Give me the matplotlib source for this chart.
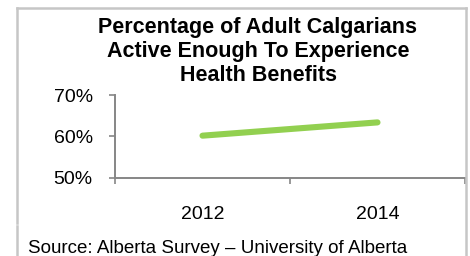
import numpy as np
import matplotlib
matplotlib.use('Agg')
import matplotlib.pyplot as plt
from matplotlib.lines import Line2D

# Data
years = ['2012', '2014']
active_pct = [60.2, 63.4]
y_ticks = [50, 60, 70]
title_text = 'Percentage of Adult Calgarians\nActive Enough To Experience\nHealth Benefits'
source_text = 'Source: Alberta Survey \u2013 University of Alberta'

plt.rcParams['font.family'] = ['Liberation Sans', 'DejaVu Sans']

fig = plt.figure(figsize=(4.7, 2.56), dpi=100)
W, H = 470.0, 256.0

# Axes placement (pixels -> figure fraction)
ax = fig.add_axes([115 / W, 1 - 178 / H, (465 - 115) / W, (178 - 95) / H])

x = np.arange(len(years))
ax.plot(x, active_pct, color='#92D050', linewidth=4.4, solid_capstyle='round')

ax.set_xlim(-0.5, len(years) - 0.5)
ax.set_ylim(50, 70)
ax.set_yticks(y_ticks)
ax.set_yticklabels([str(v) + '%' for v in y_ticks])
ax.set_xticks(x)
ax.set_xticklabels(years)
ax.set_xticks(np.arange(len(years) + 1) - 0.5, minor=True)

for s in ['top', 'right']:
    ax.spines[s].set_visible(False)
for s in ['left', 'bottom']:
    ax.spines[s].set_color('#868686')
    ax.spines[s].set_linewidth(1.4)

ax.tick_params(axis='y', which='major', direction='out', length=4, width=1.2,
               color='#868686', labelsize=14, pad=12, labelcolor='black')
ax.tick_params(axis='x', which='major', length=0, labelsize=14, pad=20, labelcolor='black')
ax.tick_params(axis='x', which='minor', direction='out', length=4, width=1.2, color='#868686')

# Title
fig.text(258 / W, 1 - 17 / H, title_text, ha='center', va='top',
         fontsize=15.5, fontweight='bold', linespacing=1.2)

# Source note
fig.text(28 / W, 1 - 253 / H, source_text, ha='left', va='baseline', fontsize=13.5)

# Light grey frame around the chart and the source box
bc = '#c6c6c6'
fig.add_artist(Line2D([16.5 / W, 465.5 / W], [1 - 7.5 / H, 1 - 7.5 / H], color=bc, lw=1.8))
fig.add_artist(Line2D([16.5 / W, 16.5 / W], [1 - 7.5 / H, 1 - 223 / H], color=bc, lw=1.8))
fig.add_artist(Line2D([16.5 / W, 16.5 / W], [1 - 226 / H, 0], color=bc, lw=1.8))
fig.add_artist(Line2D([465.5 / W, 465.5 / W], [1 - 7.5 / H, 0], color=bc, lw=1.8))

fig.savefig('out.png', dpi=100)
